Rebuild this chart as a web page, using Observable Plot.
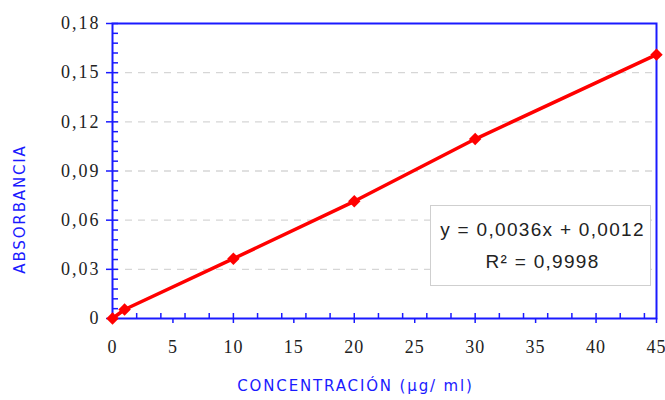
<!DOCTYPE html>
<html>
<head>
<meta charset="utf-8">
<script src="https://cdn.jsdelivr.net/npm/d3@7"></script>
<script src="https://cdn.jsdelivr.net/npm/@observablehq/plot@0.6"></script>
<style>
  html, body { margin: 0; padding: 0; background: #fff; }
  #chart svg { display: block; }
  g[aria-label="y-axis tick label"] text {
    font-family: "Liberation Serif", serif; font-size: 18px; letter-spacing: 2px;
  }
  g[aria-label="x-axis tick label"] text {
    font-family: "Liberation Serif", serif; font-size: 18px; letter-spacing: 1px;
  }
  [aria-label="equation"], [aria-label="equation"] text {
    font-family: "Liberation Sans", Arial, sans-serif; font-size: 19px; letter-spacing: 1.3px;
  }
  [aria-label="axis title"], [aria-label="axis title"] text {
    font-family: "DejaVu Sans", sans-serif; font-size: 15px; letter-spacing: 1.85px;
  }
</style>
</head>
<body>
<div id="chart"></div>
<script>
// Data
const concentration = [0, 1, 10, 20, 30, 45];
const absorbance = [0, 0.0055, 0.0365, 0.0715, 0.1095, 0.161];
const yTicks = [0, 0.03, 0.06, 0.09, 0.12, 0.15, 0.18];
const yGrid = [0.03, 0.06, 0.09, 0.12, 0.15];
const yMinor = d3.range(0, 31).map(i => i * 0.006);
const xTicks = [0, 5, 10, 15, 20, 25, 30, 35, 40, 45];
const xMinor = [0, 2, 4, 6, 8, 10, 12, 14, 16, 18, 20, 22, 24, 26, 28, 30, 32, 34, 36, 38, 40, 42, 44];
const yLabel = "ABSORBANCIA";
const xLabel = "CONCENTRACIÓN (µg/ ml)";
const eqLine1 = "y = 0,0036x + 0,0012";
const eqLine2 = "R² = 0,9998";

const points = concentration.map((c, i) => ({x: c, y: absorbance[i]}));

const W = 665, H = 400;
const mL = 112, mR = 9, mT = 23, mB = 82;
const innerW = W - mL - mR, innerH = H - mT - mB;
const blue = "#1a1aff";
const red = "#ff0000";
const fmt = d => d === 0 ? "0" : d3.format(".2f")(d).replace(".", ",");

const plot = Plot.plot({
  width: W, height: H,
  marginLeft: mL, marginRight: mR, marginTop: mT, marginBottom: mB,
  x: {domain: [0, 45]},
  y: {domain: [0, 0.18]},
  style: {background: "white", overflow: "visible"},
  marks: [
    Plot.ruleY(yGrid, {y: d => d, stroke: "#d6d6d6", strokeWidth: 1.3, strokeDasharray: "7,6"}),
    Plot.frame({insetLeft: 318, insetRight: 6, insetTop: 182, insetBottom: 33, fill: "white", stroke: "#cfcfcf", strokeWidth: 1}),
    Plot.text([eqLine1], {ariaLabel: () => "equation", frameAnchor: "bottom-right", dx: -114, dy: -89, textAnchor: "middle", lineAnchor: "middle",
      fontFamily: "Liberation Sans", fontSize: 19, fill: "#222"}),
    Plot.text([eqLine2], {ariaLabel: () => "equation", frameAnchor: "bottom-right", dx: -114, dy: -57, textAnchor: "middle", lineAnchor: "middle",
      fontFamily: "Liberation Sans", fontSize: 19, fill: "#222"}),
    Plot.ruleX(xMinor, {x: d => d, stroke: blue, strokeWidth: 1.5, insetTop: innerH - 5}),
    Plot.ruleY(yMinor, {y: d => d, stroke: blue, strokeWidth: 1.5, insetRight: innerW - 6}),
    Plot.axisY({ticks: yTicks, tickFormat: fmt, tickSize: 6, tickPadding: 6, stroke: blue, strokeWidth: 1.5, fill: "#222", label: null}),
    Plot.axisX({ticks: xTicks, tickFormat: d => String(d), tickSize: 5, tickPadding: 17, stroke: blue, strokeWidth: 1.5, fill: "#222", label: null}),
    Plot.frame({stroke: blue, strokeWidth: 2}),
    Plot.line(points, {x: "x", y: "y", stroke: red, strokeWidth: 3.5}),
    Plot.dot(points, {x: "x", y: "y", symbol: "diamond2", r: 5.6, fill: red, stroke: "none"}),
    Plot.text([yLabel], {ariaLabel: () => "axis title", frameAnchor: "left", dx: -92, dy: 38, rotate: -90, textAnchor: "middle",
      fontFamily: "DejaVu Sans", fontSize: 15, fill: blue}),
    Plot.text([xLabel], {ariaLabel: () => "axis title", frameAnchor: "bottom", dx: -29, dy: 72, textAnchor: "middle",
      fontFamily: "DejaVu Sans", fontSize: 15, fill: blue})
  ]
});
document.getElementById("chart").appendChild(plot);
</script>
</body>
</html>
